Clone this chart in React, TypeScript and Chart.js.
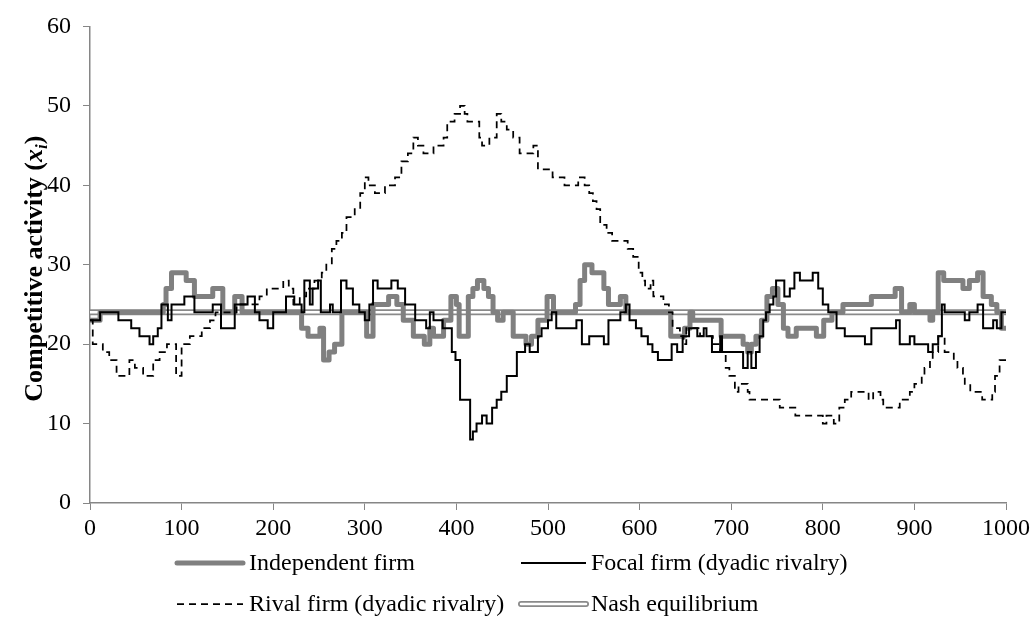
import { useEffect, useRef } from "react";
import Chart from "chart.js/auto";

// ---- data (step breakpoints: value holds from x until the next x) ----
const independentX = [0, 11, 80, 83, 89, 105, 114, 134, 145, 158, 166, 231, 238, 251, 255, 261, 267, 275, 302, 309, 326, 335, 342, 353, 365, 371, 375, 386, 394, 400, 403, 413, 418, 423, 430, 435, 440, 445, 451, 462, 476, 482, 489, 499, 506, 530, 535, 540, 548, 561, 566, 579, 585, 634, 649, 655, 658, 689, 713, 718, 722, 727, 733, 739, 745, 751, 757, 762, 771, 793, 801, 810, 822, 841, 853, 879, 886, 895, 900, 917, 920, 926, 932, 953, 960, 969, 975, 984, 990, 995, 1000];
const independentY = [23, 24, 25, 27, 29, 28, 26, 27, 24, 26, 24, 22, 21, 22, 18, 19, 20, 24, 21, 25, 26, 25, 23, 21, 20, 22, 21, 23, 26, 25, 21, 26, 27, 28, 27, 26, 24, 23, 24, 21, 20, 21, 23, 26, 24, 25, 28, 30, 29, 27, 25, 26, 24, 21, 22, 24, 23, 21, 20, 19, 20, 21, 23, 26, 27, 25, 22, 21, 22, 21, 23, 24, 25, 25, 26, 27, 24, 25, 24, 23, 24, 29, 28, 27, 28, 29, 26, 25, 24, 22, 22];

const focalX = [0, 11, 31, 45, 54, 65, 69, 74, 78, 85, 89, 103, 114, 134, 143, 158, 172, 180, 185, 194, 200, 214, 223, 231, 234, 240, 243, 249, 252, 262, 265, 274, 280, 287, 294, 300, 305, 309, 314, 329, 336, 344, 355, 367, 371, 375, 385, 395, 399, 404, 415, 418, 422, 428, 433, 439, 444, 449, 455, 466, 475, 480, 489, 493, 500, 504, 509, 531, 537, 545, 561, 566, 579, 585, 589, 596, 602, 609, 614, 620, 635, 641, 647, 654, 663, 670, 673, 679, 688, 690, 713, 718, 722, 727, 731, 735, 738, 742, 746, 749, 758, 764, 769, 775, 789, 795, 800, 806, 815, 824, 846, 853, 880, 884, 895, 900, 915, 920, 926, 930, 933, 955, 960, 969, 975, 986, 990, 995, 1000];
const focalY = [23, 24, 23, 22, 21, 20, 21, 22, 25, 23, 25, 26, 24, 25, 22, 25, 26, 24, 23, 22, 24, 26, 25, 24, 28, 25, 27, 28, 24, 25, 24, 28, 27, 25, 24, 23, 25, 28, 27, 28, 27, 25, 23, 22, 24, 23, 22, 19, 18, 13, 8, 9, 10, 11, 10, 12, 13, 14, 16, 19, 20, 19, 21, 22, 23, 24, 22, 23, 20, 21, 20, 23, 24, 25, 23, 22, 21, 20, 19, 18, 20, 19, 21, 22, 21, 22, 21, 19, 21, 19, 17, 19, 17, 19, 21, 23, 24, 25, 26, 28, 26, 27, 29, 28, 29, 27, 25, 24, 22, 21, 20, 22, 23, 20, 21, 20, 19, 20, 21, 25, 24, 23, 24, 25, 22, 23, 22, 24, 24];

const rivalX = [0, 3, 14, 21, 29, 43, 49, 58, 69, 76, 84, 94, 100, 109, 122, 131, 137, 160, 185, 193, 211, 217, 222, 229, 236, 245, 253, 258, 264, 269, 275, 280, 289, 295, 300, 304, 311, 322, 333, 340, 347, 353, 358, 364, 375, 386, 390, 398, 404, 409, 412, 425, 428, 436, 444, 449, 455, 462, 469, 484, 489, 505, 518, 533, 540, 545, 549, 553, 557, 564, 570, 587, 593, 599, 603, 606, 612, 615, 626, 632, 636, 644, 648, 651, 666, 680, 688, 694, 698, 704, 708, 718, 720, 753, 770, 800, 804, 812, 818, 824, 831, 850, 855, 863, 866, 884, 895, 900, 908, 911, 917, 920, 926, 933, 943, 947, 953, 955, 961, 974, 985, 988, 993, 1000];
const rivalY = [23, 20, 19, 18, 16, 18, 17, 16, 18, 19, 20, 16, 20, 21, 22, 23, 24, 25, 26, 27, 28, 27, 25, 26, 27, 28, 29, 30, 32, 33, 34, 36, 37, 39, 41, 40, 39, 40, 41, 43, 44, 46, 45, 44, 45, 46, 48, 49, 50, 49, 48, 46, 45, 46, 49, 48, 47, 46, 44, 45, 42, 41, 40, 41, 40, 39, 38, 37, 35, 34, 33, 32, 31, 29, 28, 27, 28, 26, 25, 24, 22, 21, 20, 22, 21, 20, 19, 17, 16, 14, 15, 14, 13, 12, 11, 10, 11, 10, 12, 13, 14, 13, 14, 13, 12, 13, 14, 15, 16, 17, 18, 19, 21, 19, 18, 17, 16, 15, 14, 13, 14, 16, 18, 18];

const nashX = [0, 1000];
const nashY = [24, 24];

const seriesLabels = ["Independent firm", "Focal firm (dyadic rivalry)", "Rival firm (dyadic rivalry)", "Nash equilibrium"];

const xMin = 0, xMax = 1000, xStep = 100;
const yMin = 0, yMax = 60, yStep = 10;

const FONT = "'Liberation Serif', 'Times New Roman', serif";
const AXIS_GREY = "#868686";
const IND_GREY = "#808080";
const NASH_GREY = "#8a8a8a";

function toPoints(xs: number[], ys: number[]) {
  return xs.map((x, i) => ({ x, y: ys[i] }));
}

const decorPlugin = {
  id: "decor",
  afterDraw(chart: any) {
    const ctx: CanvasRenderingContext2D = chart.ctx;
    const area = chart.chartArea;
    // ---- y-axis title with italic x and subscript i ----
    ctx.save();
    const cy = (area.top + area.bottom) / 2 + 4;
    ctx.translate(33, cy);
    ctx.rotate(-Math.PI / 2);
    ctx.fillStyle = "#000";
    ctx.textBaseline = "alphabetic";
    const parts = [
      { t: "Competitive activity (", f: `bold 26px ${FONT}`, dy: 0 },
      { t: "x", f: `italic bold 26px ${FONT}`, dy: 0 },
      { t: "i", f: `italic bold 17px ${FONT}`, dy: 5 },
      { t: ")", f: `bold 26px ${FONT}`, dy: 0 },
    ];
    let total = 0;
    for (const p of parts) { ctx.font = p.f; total += ctx.measureText(p.t).width; }
    let x = -total / 2;
    for (const p of parts) {
      ctx.font = p.f;
      ctx.fillText(p.t, x, 9 + p.dy);
      x += ctx.measureText(p.t).width;
    }
    ctx.restore();

    // ---- legend (2 x 2 grid) ----
    const rows = [563, 604];
    const cols = [{ s: 177, e: 243, t: 249 }, { s: 521, e: 586, t: 591 }];
    const items = [
      { col: 0, row: 0, kind: "ind" },
      { col: 1, row: 0, kind: "focal" },
      { col: 0, row: 1, kind: "rival" },
      { col: 1, row: 1, kind: "nash" },
    ];
    items.forEach((it, i) => {
      const c = cols[it.col];
      const y = rows[it.row];
      ctx.save();
      ctx.beginPath();
      ctx.moveTo(c.s, y);
      ctx.lineTo(c.e, y);
      if (it.kind === "ind") {
        ctx.strokeStyle = IND_GREY; ctx.lineWidth = 5; ctx.lineCap = "round"; ctx.stroke();
      } else if (it.kind === "focal") {
        ctx.strokeStyle = "#000"; ctx.lineWidth = 2; ctx.lineCap = "butt"; ctx.stroke();
      } else if (it.kind === "rival") {
        ctx.strokeStyle = "#000"; ctx.lineWidth = 1.75; ctx.setLineDash([7, 5]); ctx.stroke();
      } else {
        ctx.strokeStyle = NASH_GREY; ctx.lineWidth = 6; ctx.lineCap = "round"; ctx.stroke();
        ctx.beginPath(); ctx.moveTo(c.s, y); ctx.lineTo(c.e, y);
        ctx.strokeStyle = "#fff"; ctx.lineWidth = 2.5; ctx.stroke();
      }
      ctx.restore();
      ctx.save();
      ctx.fillStyle = "#000";
      ctx.font = `24px ${FONT}`;
      ctx.textBaseline = "middle";
      ctx.textAlign = "left";
      ctx.fillText(seriesLabels[i], c.t, y + 1);
      ctx.restore();
    });
  },
};

export default function App() {
  const ref = useRef<HTMLCanvasElement>(null);
  useEffect(() => {
    document.body.style.margin = "0";
    document.body.style.overflow = "hidden";
    const canvas = ref.current!;
    const base = { pointRadius: 0, pointHoverRadius: 0, fill: false, tension: 0 };
    const chart = new Chart(canvas, {
      type: "line",
      data: {
        datasets: [
          { ...base, label: seriesLabels[3], data: toPoints(nashX, nashY), borderColor: NASH_GREY, borderWidth: 6, order: 10 },
          { ...base, label: "nash-inner", data: toPoints(nashX, nashY), borderColor: "#ffffff", borderWidth: 2.5, order: 9 },
          { ...base, label: seriesLabels[0], data: toPoints(independentX, independentY), stepped: "before", borderColor: IND_GREY, borderWidth: 5, borderJoinStyle: "round", borderCapStyle: "round", order: 8 },
          { ...base, label: seriesLabels[1], data: toPoints(focalX, focalY), stepped: "before", borderColor: "#000000", borderWidth: 2, order: 7 },
          { ...base, label: seriesLabels[2], data: toPoints(rivalX, rivalY), stepped: "before", borderColor: "#000000", borderWidth: 1.75, borderDash: [7, 5], order: 6 },
        ] as any,
      },
      options: {
        responsive: false,
        animation: false,
        events: [],
        layout: { padding: { top: 25, right: 28, left: 0, bottom: 0 } },
        plugins: { legend: { display: false }, tooltip: { enabled: false }, title: { display: false } },
        scales: {
          x: {
            type: "linear",
            min: xMin,
            max: xMax,
            ticks: { stepSize: xStep, color: "#000", font: { family: FONT, size: 24 }, padding: 4, maxRotation: 0, autoSkip: false, callback: (v: any) => String(v) },
            grid: { drawOnChartArea: false, drawTicks: true, tickLength: 7, color: AXIS_GREY },
            border: { color: AXIS_GREY, width: 1.5 },
            afterFit: (s: any) => { s.height = 136; },
          },
          y: {
            type: "linear",
            min: yMin,
            max: yMax,
            ticks: { stepSize: yStep, color: "#000", font: { family: FONT, size: 24 }, padding: 12, callback: (v: any) => String(v) },
            grid: { drawOnChartArea: false, drawTicks: true, tickLength: 7, color: AXIS_GREY },
            border: { color: AXIS_GREY, width: 1.5 },
            afterFit: (s: any) => { s.width = 90; },
          },
        },
      } as any,
      plugins: [decorPlugin],
    });
    return () => chart.destroy();
  }, []);
  return <canvas ref={ref} width={1034} height={639} style={{ display: "block", width: 1034, height: 639 }} />;
}
